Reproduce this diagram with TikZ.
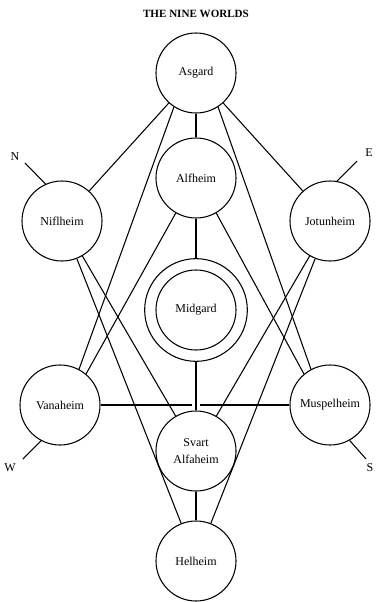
\documentclass[tikz,border=0pt]{standalone}
\usepackage{fontspec}
\setmainfont{Liberation Serif}
\usepackage{tikz}
\usetikzlibrary{positioning,calc}
\tikzset{
  world/sphere/.style={draw, circle, thick, minimum size=60pt, inner sep=0pt, align=center, font=\small},
  world/ring/.style={draw, circle, thick, minimum size=77pt, inner sep=0pt},
  world/line/.style={thick},
  world/dir/.style={font=\small, inner sep=1pt},
  world/title/.style={font=\fontsize{8.3}{10}\selectfont\bfseries, inner sep=1pt}
}

\begin{document}
\begin{tikzpicture}[x=0.75pt, y=-0.75pt]
  \useasboundingbox (0,0) rectangle (376,602);
  \node[world/title] (title) at (196,14) {THE NINE WORLDS};

  \node[world/sphere] (asgard) at (196,73) {Asgard};
  \node[world/sphere] (alfheim) at (196,178) {Alfheim};
  \node[world/sphere] (niflheim) at (62,221) {Niflheim};
  \node[world/sphere] (jotunheim) at (330,221) {Jotunheim};
  \node[world/ring] (midring) at (196,310) {};
  \node[world/sphere] (midgard) at (196,310) {Midgard};
  \node[world/sphere] (vanaheim) at (60,405) {Vanaheim};
  \node[world/sphere] (muspelheim) at (330,405) {Muspelheim};
  \node[world/sphere] (svart) at (196,451) {Svart\\[1.5pt]Alfaheim};
  \node[world/sphere] (helheim) at (196,561) {Helheim};

  \draw[world/line] (asgard) -- (alfheim);
  \draw[world/line] (asgard) -- (niflheim);
  \draw[world/line] (asgard) -- (jotunheim);
  \draw[world/line] (asgard.237) -- (vanaheim.62);
  \draw[world/line] (asgard.303) -- (muspelheim.118);
  \draw[world/line] (alfheim) -- (midring);
  \draw[world/line] (alfheim.240) -- (vanaheim.50);
  \draw[world/line] (alfheim.300) -- (muspelheim.130);
  \draw[world/line] (niflheim) -- (svart);
  \draw[world/line] (niflheim) -- (helheim);
  \draw[world/line] (jotunheim) -- (svart);
  \draw[world/line] (jotunheim) -- (helheim);
  \draw[world/line] (midring) -- (svart);
  \draw[world/line] (svart) -- (helheim);

  \coordinate (gapl) at (192,405);
  \coordinate (gapr) at (200,405);
  \draw[world/line] (vanaheim) -- (gapl);
  \draw[world/line] (gapr) -- (muspelheim);

  \coordinate (nend) at (25,163);
  \coordinate (eend) at (357,161);
  \coordinate (wend) at (23,459);
  \coordinate (send) at (366,459);
  \draw[world/line] (niflheim.114) -- (nend);
  \draw[world/line] (jotunheim.80) -- (eend);
  \draw[world/line] (vanaheim.242) -- (wend);
  \draw[world/line] (muspelheim.299) -- (send);
  \node[world/dir] (north) at (15,157) {N};
  \node[world/dir] (east) at (369,153) {E};
  \node[world/dir] (west) at (10,468) {W};
  \node[world/dir] (south) at (370,468) {S};
\end{tikzpicture}
\end{document}
